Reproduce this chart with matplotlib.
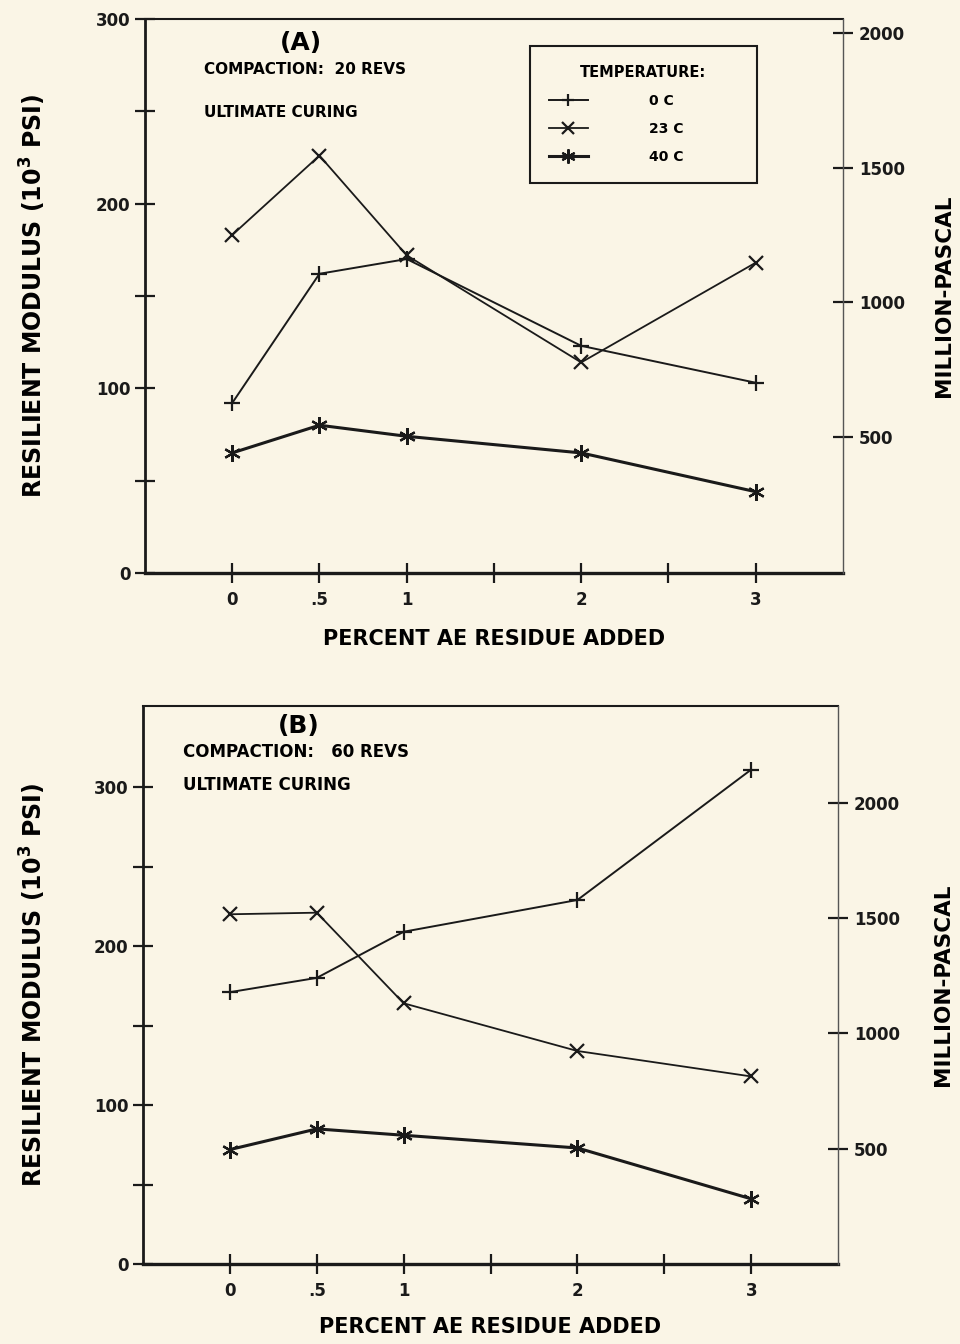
import matplotlib
matplotlib.use("Agg")
import matplotlib.pyplot as plt
from matplotlib.lines import Line2D

# ---------------- data ----------------
x_vals = [0, 0.5, 1, 2, 3]
x_tick_pos = [0, 0.5, 1, 1.5, 2, 2.5, 3]
x_tick_labels = ["0", ".5", "1", "", "2", "", "3"]

series_names = ["0 C", "23 C", "40 C"]

# Panel A (compaction 20 revs), ksi
a_0c = [92, 162, 170, 123, 103]
a_23c = [183, 226, 172, 114, 168]
a_40c = [65, 80, 74, 65, 44]

# Panel B (compaction 60 revs), ksi
b_0c = [171, 180, 209, 229, 311]
b_23c = [220, 221, 164, 134, 118]
b_40c = [72, 85, 81, 73, 41]

left_ticks = [0, 50, 100, 150, 200, 250, 300]
left_labels = ["0", "", "100", "", "200", "", "300"]
right_ticks = [500, 1000, 1500, 2000]

BG = "#faf5e6"
INK = "#1a1a1a"

plt.rcParams["font.family"] = ["DejaVu Sans"]
plt.rcParams["font.weight"] = "bold"
plt.rcParams["mathtext.default"] = "bf"

fig = plt.figure(figsize=(9.6, 13.44), dpi=100, facecolor=BG)

markers = ["+", "x", (6, 2, 0)]
lws = [1.4, 1.3, 2.2]
msizes = [11, 10, 12]


def panel(rect, data, ylim, rylim, letter, letter_xy, comp_text, cur_text,
          txt_size, ylab_x, rlab_x, xlab_y, legend):
    ax = fig.add_axes(rect)
    ax.set_facecolor(BG)
    for vals, m, lw, ms in zip(data, markers, lws, msizes):
        ax.plot(x_vals, vals, color=INK, lw=lw, marker=m, ms=ms, mew=1.6)
    ax.set_xlim(-0.5, 3.5)
    ax.set_ylim(*ylim)
    ax.set_xticks(x_tick_pos)
    ax.set_xticklabels(x_tick_labels, fontsize=12, fontweight="bold")
    ax.set_yticks(left_ticks)
    ax.set_yticklabels(left_labels, fontsize=12, fontweight="bold")
    ax.tick_params(axis="both", direction="inout", length=14, width=1.6, colors=INK)
    ax.tick_params(axis="x", pad=6)
    ax.spines["left"].set_linewidth(2.0)
    ax.spines["bottom"].set_linewidth(2.4)
    ax.spines["top"].set_linewidth(1.5)
    ax.spines["right"].set_visible(False)
    for s in ["left", "bottom", "top"]:
        ax.spines[s].set_color(INK)

    ax2 = ax.twinx()
    ax2.set_ylim(*rylim)
    ax2.set_yticks(right_ticks)
    ax2.set_yticklabels([str(t) for t in right_ticks], fontsize=12, fontweight="bold")
    ax2.tick_params(axis="y", direction="inout", length=15, width=1.6, colors=INK, pad=4)
    ax2.spines["right"].set_linewidth(1.0)
    ax2.spines["right"].set_color("#555555")
    for s in ["left", "bottom", "top"]:
        ax2.spines[s].set_visible(False)

    ax.set_xlabel("PERCENT AE RESIDUE ADDED", fontsize=15, fontweight="bold")
    ax.xaxis.set_label_coords(0.5, xlab_y)
    ax.set_ylabel(r"RESILIENT MODULUS (10$^{3}$ PSI)", fontsize=17, fontweight="bold")
    ax.yaxis.set_label_coords(ylab_x, 0.5)
    ax2.set_ylabel("MILLION-PASCAL", fontsize=15.5, fontweight="bold")
    ax2.yaxis.set_label_coords(rlab_x, 0.5)

    ax.text(letter_xy[0], letter_xy[1], letter, transform=ax.transAxes, fontsize=18,
            fontweight="bold", ha="center", va="center")
    ax.text(comp_text[0], comp_text[1], comp_text[2], transform=ax.transAxes,
            fontsize=txt_size, fontweight="bold", ha="left", va="center")
    ax.text(cur_text[0], cur_text[1], cur_text[2], transform=ax.transAxes,
            fontsize=txt_size, fontweight="bold", ha="left", va="center")

    if legend:
        handles = [Line2D([], [], color=INK, lw=lw, marker=m, ms=ms * 0.85, mew=1.6)
                   for m, lw, ms in zip(markers, lws, msizes)]
        leg = ax.legend(handles, series_names, title="TEMPERATURE:",
                        loc="upper left",
                        bbox_to_anchor=(0.551, 0.5, 0.326, 0.4515),
                        mode="expand",
                        frameon=True, fancybox=False, edgecolor=INK,
                        facecolor=BG, framealpha=1, fontsize=10,
                        title_fontproperties={"weight": "bold", "size": 10.5},
                        handlelength=2.8, handletextpad=4.4,
                        borderpad=1.4, labelspacing=1.0, borderaxespad=0)
        leg.get_frame().set_linewidth(1.5)
        for t in leg.get_texts():
            t.set_fontweight("bold")
    return ax, ax2


panel([0.151, 0.5737, 0.727, 0.4122],
      [a_0c, a_23c, a_40c], (0, 300), (-7, 2054),
      "(A)", (0.2235, 0.956), (0.084, 0.908, "COMPACTION:  20 REVS"),
      (0.085, 0.832, "ULTIMATE CURING"), 11, -0.139, 1.13, -0.102, True)

panel([0.149, 0.0595, 0.724, 0.4152],
      [b_0c, b_23c, b_40c], (0, 351), (0, 351 * 6.895),
      "(B)", (0.2245, 0.964), (0.057, 0.9176, "COMPACTION:   60 REVS"),
      (0.057, 0.858, "ULTIMATE CURING"), 12, -0.137, 1.137, -0.0943, False)

fig.savefig("out.png", dpi=100, facecolor=BG)
